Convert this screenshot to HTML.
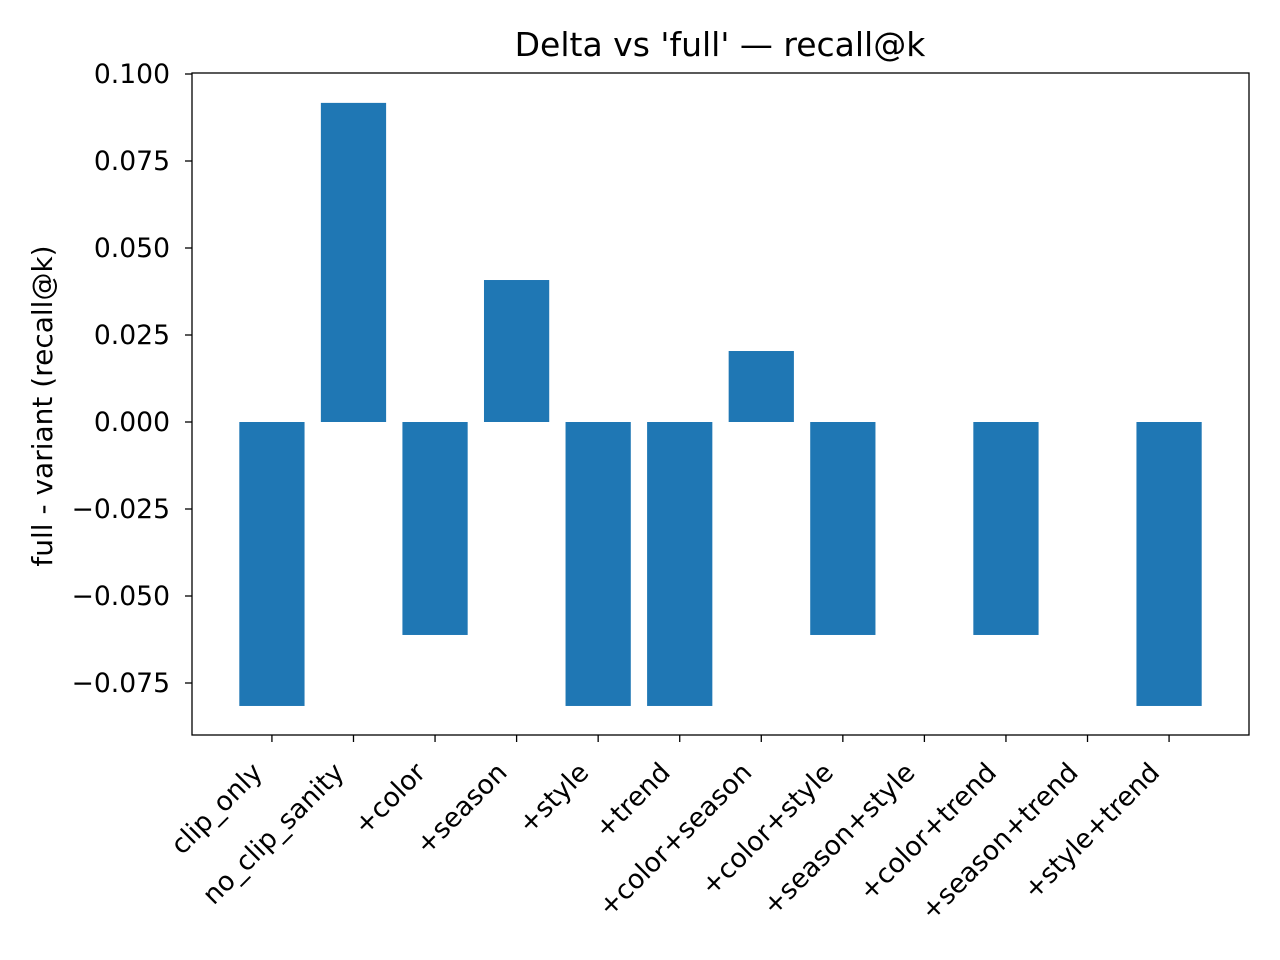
<!DOCTYPE html>
<html><head><meta charset="utf-8"><style>
body{margin:0;background:#fff;}
svg{display:block;font-family:"DejaVu Sans","Liberation Sans",sans-serif;}
</style></head><body>
<svg id="chart" width="1280" height="960">
<text x="720" y="56" font-size="33" text-anchor="middle">Delta vs 'full' — recall@k</text>
<text transform="translate(52,406) rotate(-90)" font-size="28" text-anchor="middle">full - variant (recall@k)</text>
<g id="bars"></g><g id="yticks"></g><g id="xticks"></g>
<rect x="192" y="73" width="1057" height="662" fill="none" stroke="#000" stroke-width="1.3"/>
</svg>
<script>
const categories=["clip_only","no_clip_sanity","+color","+season","+style","+trend","+color+season","+color+style","+season+style","+color+trend","+season+trend","+style+trend"];
const values=[-0.0816,0.0917,-0.0612,0.0408,-0.0816,-0.0816,0.0204,-0.0612,0,-0.0612,0,-0.0816];
const yTicks=[0.1,0.075,0.05,0.025,0,-0.025,-0.05,-0.075];
const yTickLabels=["0.100","0.075","0.050","0.025","0.000","\u22120.025","\u22120.050","\u22120.075"];
const NS="http://www.w3.org/2000/svg";
const L=192,R=1249,T=73,B=735;
const xMin=-0.98,xMax=categories.length-1+0.98;
function xs(i){return L+(i-xMin)/(xMax-xMin)*(R-L);}
function ys(v){return 422-v*3480;}
const unit=(R-L)/(xMax-xMin);
const bars=document.getElementById('bars');
values.forEach((v,i)=>{
 const r=document.createElementNS(NS,'rect');
 const y0=ys(Math.max(v,0)),y1=ys(Math.min(v,0));
 r.setAttribute('x',xs(i)-0.4*unit);r.setAttribute('width',0.8*unit);
 r.setAttribute('y',y0);r.setAttribute('height',Math.max(y1-y0,0));
 r.setAttribute('fill','#1f77b4');
 
 
 bars.appendChild(r);
});
const yt=document.getElementById('yticks');
yTicks.forEach((v,i)=>{
 const y=ys(v);
 const l=document.createElementNS(NS,'line');
 l.setAttribute('x1',L-7);l.setAttribute('x2',L);l.setAttribute('y1',y);l.setAttribute('y2',y);l.setAttribute('stroke','#000');l.setAttribute('stroke-width','1.3');
 
 
 yt.appendChild(l);
 const t=document.createElementNS(NS,'text');
 t.setAttribute('x',L-22);t.setAttribute('y',y+9);t.setAttribute('text-anchor','end');t.setAttribute('font-size','26.6');
 t.textContent=yTickLabels[i];
 
 
 yt.appendChild(t);
});
const xt=document.getElementById('xticks');
categories.forEach((c,i)=>{
 const x=xs(i);
 const l=document.createElementNS(NS,'line');
 l.setAttribute('x1',x);l.setAttribute('x2',x);l.setAttribute('y1',B);l.setAttribute('y2',B+7);l.setAttribute('stroke','#000');l.setAttribute('stroke-width','1.3');
 
 
 xt.appendChild(l);
 const t=document.createElementNS(NS,'text');
 t.setAttribute('transform','translate('+(x-8)+','+(B+39)+') rotate(-45)');
 t.setAttribute('text-anchor','end');t.setAttribute('font-size','26.6');
 t.textContent=c;
 
 
 xt.appendChild(t);
});
</script>
</body></html>
